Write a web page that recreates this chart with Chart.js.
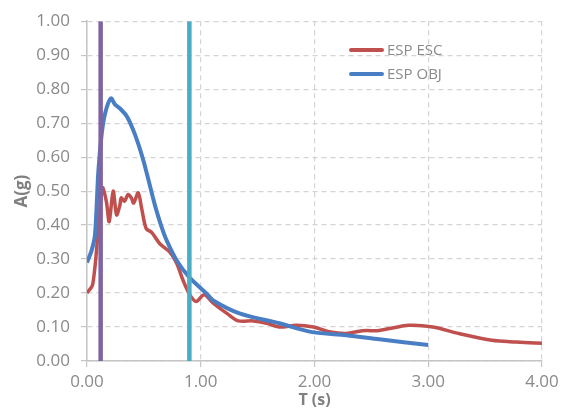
<!DOCTYPE html>
<html>
<head>
<meta charset="utf-8">
<script src="https://cdn.jsdelivr.net/npm/chart.js@4.4.0/dist/chart.umd.min.js"></script>
<style>
  html, body { margin: 0; padding: 0; background: #fff; }
  #wrap { width: 569px; height: 411px; }
</style>
</head>
<body>
<div id="wrap"><canvas id="chart"></canvas></div>
<script>
// spectrum periods (s) and accelerations (g)
const escT = [0.00, 0.05, 0.10, 0.135, 0.17, 0.195, 0.23, 0.26, 0.29, 0.30, 0.33, 0.36, 0.39, 0.41, 0.45, 0.48, 0.52, 0.57, 0.64, 0.73, 0.79, 0.845, 0.90, 0.96, 1.03, 1.11, 1.23, 1.33, 1.46, 1.58, 1.69, 1.84, 1.99, 2.13, 2.28, 2.42, 2.57, 2.83, 3.04, 3.27, 3.56, 3.77, 4.00];
const escA = [0.20, 0.225, 0.39, 0.51, 0.47, 0.41, 0.50, 0.43, 0.46, 0.48, 0.47, 0.49, 0.48, 0.465, 0.495, 0.45, 0.39, 0.378, 0.345, 0.32, 0.286, 0.237, 0.197, 0.175, 0.195, 0.17, 0.14, 0.118, 0.118, 0.111, 0.10, 0.105, 0.10, 0.086, 0.081, 0.089, 0.09, 0.105, 0.10, 0.081, 0.061, 0.056, 0.052];

const objT = [0.00, 0.04, 0.07, 0.10, 0.13, 0.16, 0.21, 0.245, 0.29, 0.35, 0.40, 0.45, 0.50, 0.55, 0.60, 0.65, 0.70, 0.79, 0.90, 1.05, 1.11, 1.34, 1.69, 1.98, 2.28, 2.57, 3.00];
const objA = [0.29, 0.325, 0.37, 0.56, 0.67, 0.73, 0.773, 0.755, 0.743, 0.72, 0.685, 0.64, 0.585, 0.52, 0.455, 0.40, 0.355, 0.295, 0.246, 0.199, 0.178, 0.14, 0.111, 0.085, 0.076, 0.064, 0.047];

// vertical reference periods
const markT = [0.12, 0.90];
const markColors = ['#8064A2', '#4BACC6'];

const seriesNames = ['ESP ESC', 'ESP OBJ'];
const xTicks = [0, 1, 2, 3, 4];
const yMin = 0, yMax = 1;

const toPoints = (xs, ys) => xs.map((x, i) => ({ x: x, y: ys[i] }));

const grey = '#8a8a8a';

const datasets = [];
markT.forEach((t, i) => {
    datasets.push({
        data: [{ x: t, y: yMin }, { x: t, y: yMax }],
        borderColor: markColors[i],
        borderWidth: 4.5,
        showLine: true,
        pointRadius: 0,
        order: 0
    });
});
datasets.push({
    label: seriesNames[1],
    data: toPoints(objT, objA),
    borderColor: '#4A7EC4',
    borderWidth: 4,
    showLine: true,
    pointRadius: 0,
    tension: 0.3,
    order: 1
});
datasets.push({
    label: seriesNames[0],
    data: toPoints(escT, escA),
    borderColor: '#C0504D',
    borderWidth: 3.5,
    showLine: true,
    pointRadius: 0,
    tension: 0.3,
    order: 2
});

// small legend sitting inside the plot, top right
const insideLegend = {
    id: 'insideLegend',
    afterDraw(chart) {
        const ctx = chart.ctx;
        ctx.save();
        ctx.font = '15px "Open Sans"';
        ctx.textBaseline = 'middle';
        seriesNames.forEach((name, i) => {
            const ds = chart.data.datasets.find(d => d.label === name);
            const y = 50 + i * 24;
            ctx.strokeStyle = ds.borderColor;
            ctx.lineWidth = 4;
            ctx.lineCap = 'round';
            ctx.beginPath();
            ctx.moveTo(351, y);
            ctx.lineTo(382, y);
            ctx.stroke();
            ctx.fillStyle = grey;
            ctx.fillText(name, 387, y + 1);
        });
        ctx.restore();
    }
};

new Chart(document.getElementById('chart'), {
    type: 'scatter',
    data: { datasets: datasets },
    options: {
        responsive: true,
        maintainAspectRatio: false,
        animation: false,
        layout: { padding: { top: 19, right: 27, left: 0, bottom: 0 } },
        plugins: {
            legend: { display: false },
            tooltip: { enabled: false }
        },
        scales: {
            x: {
                type: 'linear',
                min: 0,
                max: 4,
                afterBuildTicks: s => { s.ticks = xTicks.map(v => ({ value: v })); },
                afterFit: s => { s.height = 50; },
                ticks: {
                    color: grey,
                    font: { family: 'Open Sans', size: 17 },
                    padding: 5,
                    callback: v => Number(v).toFixed(2)
                },
                grid: {
                    color: '#d4d4d4',
                    lineWidth: 1.2,
                    tickLength: 6,
                    tickColor: '#c4c4c4',
                    tickBorderDash: []
                },
                border: { color: '#c4c4c4', width: 1.5, dash: [5, 4] },
                title: {
                    display: true,
                    text: 'T (s)',
                    color: '#808080',
                    font: { family: 'Open Sans', size: 16, weight: 'bold' },
                    padding: { top: 0, bottom: 1 }
                }
            },
            y: {
                min: yMin,
                max: yMax,
                afterFit: s => { s.width = 87; },
                ticks: {
                    stepSize: 0.1,
                    color: grey,
                    font: { family: 'Open Sans', size: 17 },
                    padding: 11,
                    callback: v => Number(v).toFixed(2)
                },
                grid: {
                    color: '#d4d4d4',
                    lineWidth: 1.2,
                    tickLength: 6,
                    tickColor: '#c4c4c4',
                    tickBorderDash: []
                },
                border: { color: '#c4c4c4', width: 1.5, dash: [5, 4] },
                title: {
                    display: true,
                    text: 'A(g)',
                    color: '#808080',
                    font: { family: 'Open Sans', size: 17, weight: 'bold' },
                    padding: { top: 12, bottom: 0 }
                }
            }
        }
    },
    plugins: [insideLegend]
});
</script>
</body>
</html>
